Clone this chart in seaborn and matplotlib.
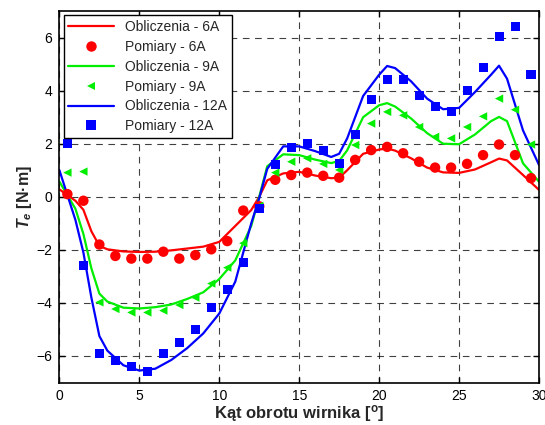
import numpy as np
import pandas as pd
import matplotlib
matplotlib.use("Agg")
import matplotlib.pyplot as plt
import seaborn as sns

# ---- data ----
x_calc = [0, 1, 1.5, 2, 2.5, 3, 4, 5, 6, 7, 8, 9, 10, 11, 12, 12.5, 13, 14, 15, 16, 17,
          17.5, 18, 19, 20, 20.5, 21, 22, 23, 24, 25, 26, 27, 27.5, 28, 29, 30]
calc_6A = [0.28, -0.15, -0.49, -1.3, -1.85, -1.98, -2.06, -2.08, -2.07, -2.02, -1.95, -1.88,
           -1.7, -1.1, -0.5, 0.0, 0.62, 0.88, 0.94, 0.8, 0.7, 0.72, 1.0, 1.62, 1.78, 1.82,
           1.74, 1.45, 1.1, 0.92, 0.9, 1.03, 1.3, 1.44, 1.37, 0.82, 0.26]
calc_9A = [0.57, -0.45, -1.4, -2.7, -3.65, -3.95, -4.18, -4.21, -4.16, -4.06, -3.85, -3.6,
           -3.1, -2.4, -1.1, 0.0, 1.15, 1.6, 1.57, 1.4, 1.27, 1.35, 1.75, 3.0, 3.45, 3.53,
           3.4, 2.95, 2.4, 2.0, 1.98, 2.35, 2.85, 3.01, 2.85, 1.26, 0.57]
calc_12A = [1.0, -0.87, -2.1, -3.8, -5.25, -5.8, -6.35, -6.55, -6.48, -6.15, -5.7, -5.15,
            -4.4, -3.2, -1.0, -0.05, 1.05, 1.9, 1.9, 1.72, 1.5, 1.62, 2.2, 3.8, 4.6, 4.93,
            4.85, 4.35, 3.7, 3.3, 3.35, 3.95, 4.6, 4.94, 4.45, 2.5, 1.2]

x_meas = [0.5, 1.5, 2.5, 3.5, 4.5, 5.5, 6.5, 7.5, 8.5, 9.5, 10.5, 11.5, 12.5, 13.5, 14.5,
          15.5, 16.5, 17.5, 18.5, 19.5, 20.5, 21.5, 22.5, 23.5, 24.5, 25.5, 26.5, 27.5,
          28.5, 29.5]
meas_6A = [0.1, -0.15, -1.8, -2.23, -2.33, -2.33, -2.07, -2.33, -2.2, -1.98, -1.67, -0.52,
           -0.36, 0.64, 0.82, 0.91, 0.79, 0.72, 1.39, 1.76, 1.88, 1.64, 1.32, 1.1, 1.1,
           1.24, 1.57, 1.97, 1.57, 0.7]
meas_9A = [0.91, 0.95, -3.98, -4.23, -4.36, -4.36, -4.29, -4.08, -3.8, -3.27, -2.67, -1.75,
           -0.34, 0.91, 1.32, 1.45, 1.24, 1.01, 1.95, 2.76, 3.2, 3.07, 2.63, 2.26, 2.2,
           2.63, 3.03, 3.7, 3.28, 1.97]
meas_12A = [1.99, -2.58, -5.89, -6.17, -6.38, -6.58, -5.92, -5.48, -5.02, -4.17, -3.51,
            -2.48, -0.45, 1.2, 1.86, 1.99, 1.76, 1.26, 2.36, 3.67, 4.41, 4.41, 3.82, 3.41,
            3.22, 4.01, 4.88, 6.04, 6.4, 4.61]

x_ticks = [0, 5, 10, 15, 20, 25, 30]
y_ticks = [-6, -4, -2, 0, 2, 4, 6]

series = [
    ("6A", calc_6A, meas_6A, "#ff0000", "o", 7.5),
    ("9A", calc_9A, meas_9A, "#00ee00", "<", 6.0),
    ("12A", calc_12A, meas_12A, "#0000ff", "s", 6.5),
]

sns.set_style("white")
plt.rcParams["font.family"] = ["Liberation Sans", "DejaVu Sans"]
plt.rcParams["mathtext.fontset"] = "custom"
plt.rcParams["mathtext.it"] = "Liberation Sans:italic:bold"
plt.rcParams["mathtext.rm"] = "Liberation Sans:bold"
plt.rcParams["mathtext.bf"] = "Liberation Sans:bold"

fig = plt.figure(figsize=(5.45, 4.25), dpi=100)
ax = fig.add_axes([0.109, 0.100, 0.880, 0.874])

handles = []
labels = []
for name, calc, meas, col, mk, ms in series:
    dfc = pd.DataFrame({"x": x_calc, "y": calc})
    dfm = pd.DataFrame({"x": x_meas, "y": meas})
    sns.lineplot(data=dfc, x="x", y="y", ax=ax, color=col, lw=1.6, sort=False,
                 estimator=None)
    sns.scatterplot(data=dfm, x="x", y="y", ax=ax, color=col, marker=mk,
                    s=ms ** 2, edgecolor="none", linewidth=0, zorder=3)
    handles.append(plt.Line2D([], [], color=col, lw=1.6))
    labels.append(f"Obliczenia - {name}")
    handles.append(plt.Line2D([], [], color=col, lw=0, marker=mk, markersize=ms,
                              markeredgewidth=0))
    labels.append(f"Pomiary - {name}")

ax.set_xlim(0, 30)
ax.set_ylim(-7, 7)
ax.set_xticks(x_ticks)
ax.set_yticks(y_ticks)
ax.tick_params(direction="in", length=4, width=1, labelsize=10, colors="black",
               top=True, right=True, bottom=True, left=True, pad=5)
for s in ax.spines.values():
    s.set_color("black")
    s.set_linewidth(1.2)
ax.grid(True, color="black", linestyle=(0, (6, 5)), linewidth=0.8, alpha=0.75)
ax.set_axisbelow(True)

ax.set_xlabel("Kąt obrotu wirnika [$^{\\mathrm{o}}$]", fontsize=12, fontweight="bold",
              labelpad=0)
ax.set_ylabel("$T_e$ [N·m]", fontsize=11.5, fontweight="bold", labelpad=2)

leg = ax.legend(handles, labels, loc="upper left", fontsize=10, frameon=True,
                fancybox=False, edgecolor="black", framealpha=1, handlelength=3.3,
                borderpad=0.35, labelspacing=0.42, handletextpad=0.8,
                borderaxespad=0.3)
leg.get_frame().set_linewidth(1.0)

fig.savefig("out.png", dpi=100)
